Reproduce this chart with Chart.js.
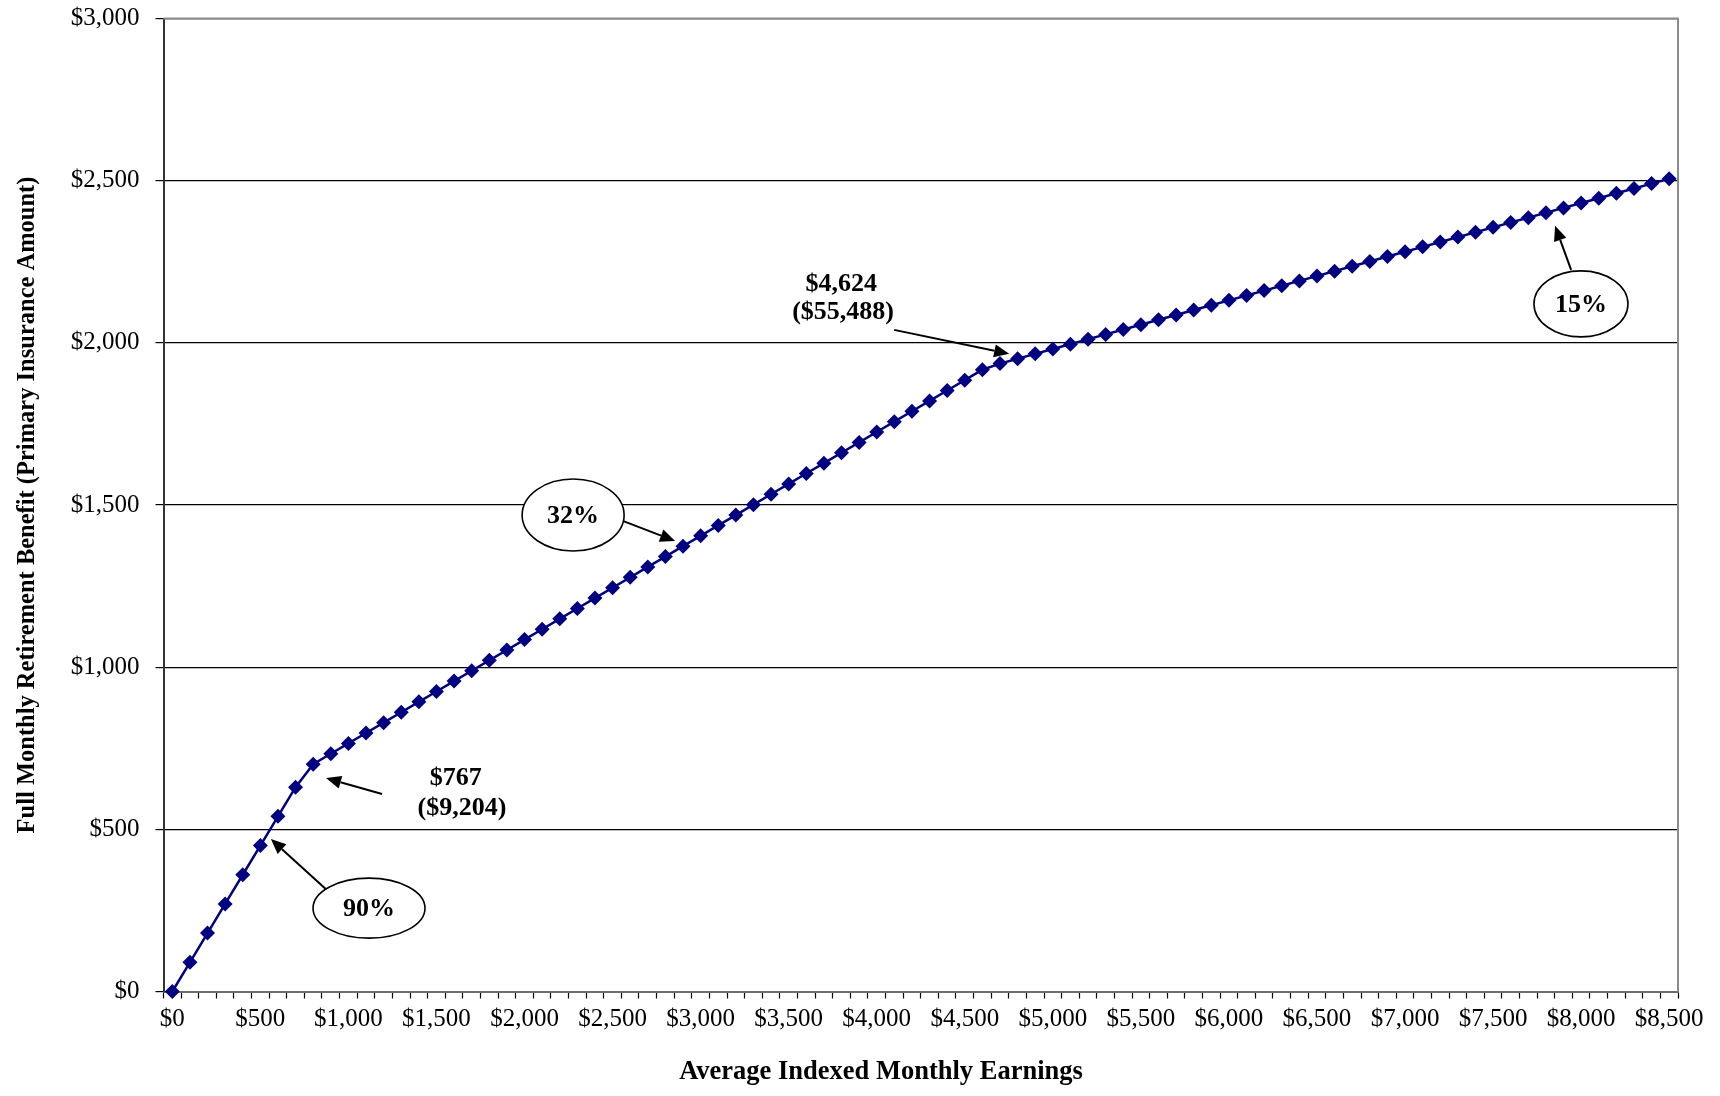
<!DOCTYPE html>
<html>
<head>
<meta charset="utf-8">
<script src="https://cdn.jsdelivr.net/npm/chart.js@4.4.1/dist/chart.umd.min.js"></script>
<style>
  html, body { margin: 0; padding: 0; background: #fff; }
  #wrap { width: 1720px; height: 1096px; }
</style>
</head>
<body>
<div id="wrap"><canvas id="piaChart"></canvas></div>
<script>
// AIME categories (dollars), one point every $100
const aime = [
  0, 100, 200, 300, 400, 500, 600, 700, 800, 900,
  1000, 1100, 1200, 1300, 1400, 1500, 1600, 1700, 1800, 1900,
  2000, 2100, 2200, 2300, 2400, 2500, 2600, 2700, 2800, 2900,
  3000, 3100, 3200, 3300, 3400, 3500, 3600, 3700, 3800, 3900,
  4000, 4100, 4200, 4300, 4400, 4500, 4600, 4700, 4800, 4900,
  5000, 5100, 5200, 5300, 5400, 5500, 5600, 5700, 5800, 5900,
  6000, 6100, 6200, 6300, 6400, 6500, 6600, 6700, 6800, 6900,
  7000, 7100, 7200, 7300, 7400, 7500, 7600, 7700, 7800, 7900,
  8000, 8100, 8200, 8300, 8400, 8500
];

// Primary insurance amount
const pia = [
  0, 90, 180, 270, 360, 450, 540, 630, 701, 733,
  765, 797, 829, 861, 893, 925, 957, 989, 1021, 1053,
  1085, 1117, 1149, 1181, 1213, 1245, 1277, 1309, 1341, 1373,
  1405, 1437, 1469, 1501, 1533, 1565, 1597, 1629, 1661, 1693,
  1725, 1757, 1789, 1821, 1853, 1885, 1917, 1936, 1951, 1966,
  1981, 1996, 2011, 2026, 2041, 2056, 2071, 2086, 2101, 2116,
  2131, 2146, 2161, 2176, 2191, 2206, 2221, 2236, 2251, 2266,
  2281, 2296, 2311, 2326, 2341, 2356, 2371, 2386, 2401, 2416,
  2431, 2446, 2461, 2476, 2491, 2506
];

const yTicks = [0, 500, 1000, 1500, 2000, 2500, 3000];

const FONT = "'Liberation Serif', 'Times New Roman', serif";
const NAVY = "#000080";

function money(v) {
  return "$" + Number(v).toLocaleString("en-US");
}

// ======================
// ANNOTATIONS (placed in data space: x = AIME dollars, y = PIA dollars)
// ======================

const labels = [
  { text: "$767", x: 1610, y: 658 },
  { text: "($9,204)", x: 1645, y: 566 },
  { text: "$4,624", x: 3798, y: 2182 },
  { text: "($55,488)", x: 3809, y: 2095 }
];

const ovals = [
  { text: "90%", x: 1117, y: 257, rx: 56, ry: 30 },
  { text: "32%", x: 2276, y: 1469, rx: 51, ry: 36 },
  { text: "15%", x: 7999, y: 2120, rx: 47, ry: 33 }
];

const arrows = [
  { from: [1191, 609], to: [873, 658] },
  { from: [890, 307], to: [560, 470] },
  { from: [2543, 1454], to: [2855, 1389] },
  { from: [4099, 2040], to: [4752, 1966] },
  { from: [7943, 2225], to: [7852, 2361] }
];

const notesPlugin = {
  id: "notes",
  afterDraw(chart) {
    const { ctx, chartArea } = chart;
    const xs = chart.scales.x;
    const ys = chart.scales.y;
    const px = v => xs.getPixelForValue(v / 100);
    const py = v => ys.getPixelForValue(v);

    ctx.save();

    // plot border (top / right), grey like the original
    ctx.strokeStyle = "#8c8c8c";
    ctx.lineWidth = 2;
    ctx.beginPath();
    ctx.moveTo(chartArea.left, chartArea.top);
    ctx.lineTo(chartArea.right, chartArea.top);
    ctx.lineTo(chartArea.right, chartArea.bottom);
    ctx.stroke();

    // arrows
    ctx.strokeStyle = "#000";
    ctx.fillStyle = "#000";
    ctx.lineWidth = 2;
    arrows.forEach(a => {
      const x1 = px(a.from[0]), y1 = py(a.from[1]);
      const x2 = px(a.to[0]), y2 = py(a.to[1]);
      const ang = Math.atan2(y2 - y1, x2 - x1);
      const len = 15, half = 6.5;
      const bx = x2 - len * Math.cos(ang), by = y2 - len * Math.sin(ang);
      ctx.beginPath();
      ctx.moveTo(x1, y1);
      ctx.lineTo(bx, by);
      ctx.stroke();
      ctx.beginPath();
      ctx.moveTo(x2, y2);
      ctx.lineTo(bx + half * Math.sin(ang), by - half * Math.cos(ang));
      ctx.lineTo(bx - half * Math.sin(ang), by + half * Math.cos(ang));
      ctx.closePath();
      ctx.fill();
    });

    // ovals
    ctx.textAlign = "center";
    ctx.textBaseline = "middle";
    ctx.font = "bold 26px " + FONT;
    ovals.forEach(o => {
      const cx = px(o.x), cy = py(o.y);
      ctx.beginPath();
      ctx.ellipse(cx, cy, o.rx, o.ry, 0, 0, Math.PI * 2);
      ctx.fillStyle = "#fff";
      ctx.fill();
      ctx.lineWidth = 1.6;
      ctx.strokeStyle = "#000";
      ctx.stroke();
      ctx.fillStyle = "#000";
      ctx.fillText(o.text, cx, cy + 1);
    });

    // bend point labels
    labels.forEach(l => {
      ctx.fillText(l.text, px(l.x), py(l.y));
    });

    // x axis title
    ctx.font = "bold 26.5px " + FONT;
    ctx.fillText("Average Indexed Monthly Earnings", 881, 1072);

    ctx.restore();
  }
};

// ======================
// CHART
// ======================

new Chart(document.getElementById("piaChart"), {
  type: "line",
  data: {
    labels: aime,
    datasets: [{
      data: pia,
      borderColor: NAVY,
      backgroundColor: NAVY,
      borderWidth: 2.5,
      pointStyle: "rectRot",
      pointRadius: 7.5,
      pointHoverRadius: 7.5,
      pointBorderWidth: 0,
      tension: 0,
      clip: false
    }]
  },
  options: {
    responsive: true,
    maintainAspectRatio: false,
    animation: false,
    layout: { padding: { left: 0, top: 18.5, right: 42, bottom: 0 } },
    plugins: {
      legend: { display: false },
      tooltip: { enabled: false }
    },
    scales: {
      x: {
        type: "category",
        offset: true,
        afterFit(scale) { scale.height = 104.5; },
        grid: {
          offset: true,
          drawOnChartArea: false,
          drawTicks: true,
          tickLength: 7,
          tickColor: "#000",
          tickWidth: 1.2
        },
        border: { color: "#6e6e6e", width: 2 },
        ticks: {
          autoSkip: false,
          maxRotation: 0,
          minRotation: 0,
          padding: 6,
          color: "#000",
          font: { family: FONT, size: 25 },
          callback(value) {
            const v = aime[value];
            return v % 500 === 0 ? money(v) : "";
          }
        }
      },
      y: {
        min: yTicks[0],
        max: yTicks[yTicks.length - 1],
        afterFit(scale) { scale.width = 163.5; },
        afterBuildTicks(scale) { scale.ticks = yTicks.map(v => ({ value: v })); },
        grid: {
          color: "#000",
          lineWidth: 1.2,
          tickLength: 8,
          tickColor: "#000"
        },
        border: { color: "#333", width: 2 },
        ticks: {
          padding: 16,
          color: "#000",
          // small lineHeight keeps the top label from pushing the plot down
          font: { family: FONT, size: 25, lineHeight: 0.2 },
          callback: v => money(v)
        },
        title: {
          display: true,
          text: "Full Monthly Retirement Benefit (Primary Insurance Amount)",
          color: "#000",
          font: { family: FONT, size: 24.5, weight: "bold" },
          padding: { top: 13, bottom: 0 }
        }
      }
    }
  },
  plugins: [notesPlugin]
});
</script>
</body>
</html>
